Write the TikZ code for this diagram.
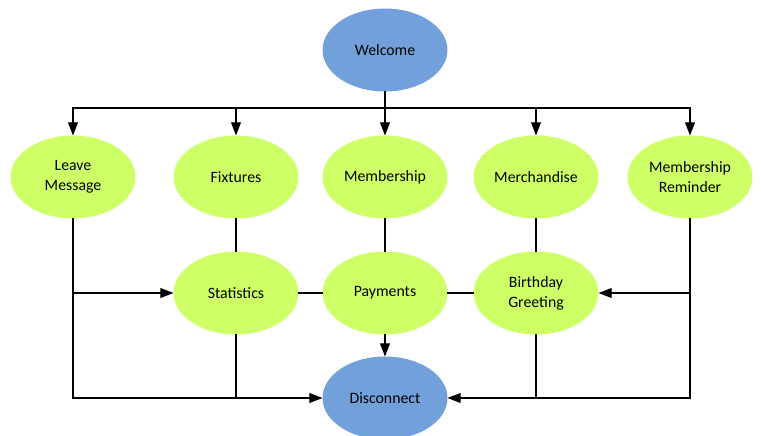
\documentclass[tikz,border=0pt]{standalone}
\usepackage{fontspec}
\setmainfont{Carlito}
\usetikzlibrary{shapes.geometric,arrows.meta}
\definecolor{fcblue}{RGB}{114,160,219}
\definecolor{fcgreen}{RGB}{206,255,102}
\begin{document}
\begin{tikzpicture}[
            x=0.02cm, y=-0.02cm,
            font=\fontsize{9}{11.4}\selectfont,
            fc node/.style  ={shape=ellipse, draw=none, inner sep=0pt, outer sep=0pt,
                              minimum width=2.5cm, minimum height=1.66cm, align=center},
            fc main/.style  ={fc node, fill=fcblue},
            fc item/.style  ={fc node, fill=fcgreen},
            fc line/.style  ={line width=0.75pt, black},
            fc arrow/.style ={fc line, -{Triangle[length=7.5pt, width=5.6pt]}}
        ]
        \useasboundingbox (0,0) rectangle (761,436);
        %% --- nodes ------------------------------------------------------------
        \node[fc main] (welcome)    at (385,50)  {Welcome};
        \node[fc item] (leave)      at (73,177)  {Leave\\Message};
        \node[fc item] (fixtures)   at (236,177) {Fixtures};
        \node[fc item] (member)     at (385,177) {Membership};
        \node[fc item] (merch)      at (536,177) {Merchandise};
        \node[fc item] (reminder)   at (690,177) {Membership\\Reminder};
        \node[fc item] (stats)      at (236,293) {Statistics};
        \node[fc item] (payments)   at (385,293) {Payments};
        \node[fc item] (birthday)   at (536,293) {Birthday\\Greeting};
        \node[fc main] (disconnect) at (385,398) {Disconnect};
        %% --- top bus: Welcome to the first row --------------------------------
        \coordinate (bus) at (385,108);
        \draw[fc line] (welcome.south) -- (bus);
        \foreach \n in {leave,fixtures,member,merch,reminder} {
                \draw[fc arrow] (bus) -| (\n.north);
            }
        %% --- first row to second row -------------------------------------------
        \draw[fc line] (fixtures.south) -- (stats.north);
        \draw[fc line] (member.south)   -- (payments.north);
        \draw[fc line] (merch.south)    -- (birthday.north);
        \draw[fc line] (stats.east)     -- (payments.west);
        \draw[fc line] (payments.east)  -- (birthday.west);
        \draw[fc arrow] (leave.south |- stats.west) -- (stats.west);
        \draw[fc arrow] (reminder.south |- birthday.east) -- (birthday.east);
        %% --- down to Disconnect ---------------------------------------------------
        \draw[fc arrow] (leave.south) |- (disconnect.west);
        \draw[fc arrow] (reminder.south) |- (disconnect.east);
        \draw[fc line] (stats.south) -- (stats.south |- disconnect.west);
        \draw[fc line] (birthday.south) -- (birthday.south |- disconnect.east);
        \draw[fc arrow] (payments.south) -- (disconnect.north);
    \end{tikzpicture}
\end{document}
